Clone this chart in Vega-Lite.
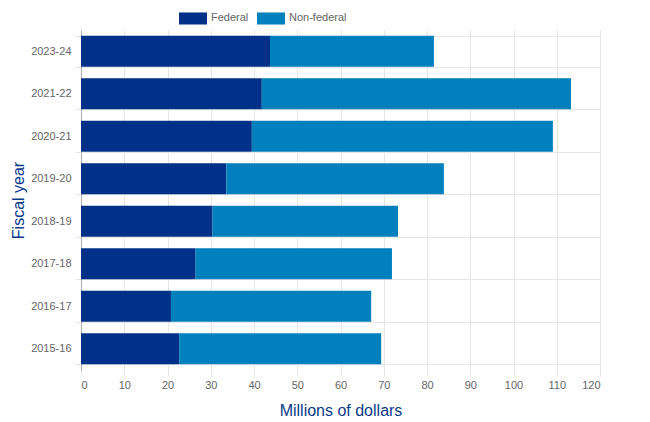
{
  "$schema": "https://vega.github.io/schema/vega-lite/v6.json",
  "width": 519,
  "height": 340,
  "autosize": {"type": "none"},
  "padding": {"left": 81, "top": 30, "right": 50, "bottom": 52},
  "background": "#ffffff",
  "view": {"stroke": null},
  "config": {
    "font": "Liberation Sans",
    "axis": {
      "labelColor": "#666666",
      "labelFontSize": 11,
      "gridColor": "#e6e6e6",
      "tickColor": "#e6e6e6",
      "titleColor": "#0b3a8c",
      "titleFontSize": 16,
      "titleFontWeight": "normal"
    }
  },
  "data": {
    "values": [
      {"year": "2023-24", "type": "Federal", "value": 43.7},
      {"year": "2023-24", "type": "Non-federal", "value": 37.9},
      {"year": "2021-22", "type": "Federal", "value": 41.8},
      {"year": "2021-22", "type": "Non-federal", "value": 71.5},
      {"year": "2020-21", "type": "Federal", "value": 39.5},
      {"year": "2020-21", "type": "Non-federal", "value": 69.6},
      {"year": "2019-20", "type": "Federal", "value": 33.6},
      {"year": "2019-20", "type": "Non-federal", "value": 50.3},
      {"year": "2018-19", "type": "Federal", "value": 30.4},
      {"year": "2018-19", "type": "Non-federal", "value": 42.9},
      {"year": "2017-18", "type": "Federal", "value": 26.5},
      {"year": "2017-18", "type": "Non-federal", "value": 45.4},
      {"year": "2016-17", "type": "Federal", "value": 20.8},
      {"year": "2016-17", "type": "Non-federal", "value": 46.3},
      {"year": "2015-16", "type": "Federal", "value": 22.7},
      {"year": "2015-16", "type": "Non-federal", "value": 46.7}
    ]
  },
  "mark": {"type": "bar", "stroke": null},
  "encoding": {
    "y": {
      "field": "year",
      "type": "nominal",
      "sort": ["2023-24", "2021-22", "2020-21", "2019-20", "2018-19", "2017-18", "2016-17", "2015-16"],
      "scale": {"paddingInner": 0.27, "paddingOuter": 0.135},
      "axis": {
        "title": "Fiscal year",
        "titlePadding": 4,
        "grid": true,
        "tickBand": "extent",
        "tickSize": 6,
        "labelPadding": 4,
        "domainColor": "#aaaaaa"
      }
    },
    "x": {
      "field": "value",
      "type": "quantitative",
      "aggregate": "sum",
      "stack": "zero",
      "scale": {"domain": [0, 120]},
      "axis": {
        "title": "Millions of dollars",
        "values": [0, 10, 20, 30, 40, 50, 60, 70, 80, 90, 100, 110, 120],
        "grid": true,
        "domain": false,
        "tickSize": 6,
        "labelPadding": 3,
        "titlePadding": 12
      }
    },
    "color": {
      "field": "type",
      "type": "nominal",
      "scale": {"domain": ["Federal", "Non-federal"], "range": ["#003087", "#0080bd"]},
      "legend": {
        "title": null,
        "orient": "none",
        "direction": "horizontal",
        "legendX": 98,
        "legendY": -26,
        "symbolType": "M-1,-0.43H1V0.43H-1Z",
        "symbolSize": 784,
        "symbolStrokeWidth": 0,
        "labelFontSize": 11,
        "labelColor": "#666666",
        "labelOffset": 4,
        "columnPadding": 8
      }
    },
    "order": {"field": "type", "sort": "ascending"}
  }
}
